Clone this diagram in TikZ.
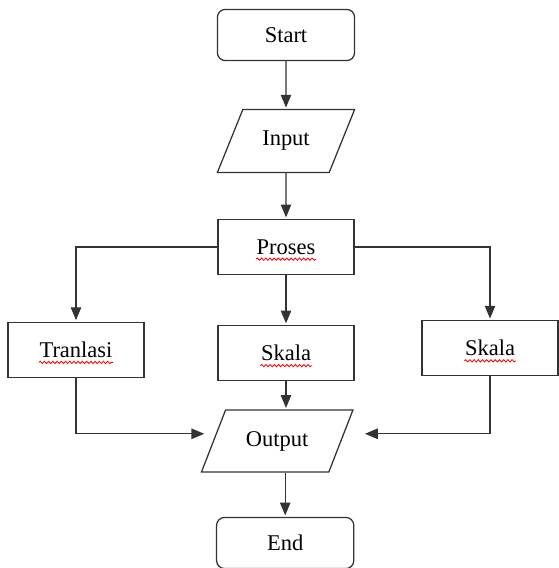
\documentclass[tikz,border=0pt]{standalone}
\usepackage{fontspec}
\setmainfont{Liberation Serif}
\usetikzlibrary{shapes.geometric,arrows.meta,positioning,decorations.pathmorphing}

% red wavy line under the word of a node
\newcommand\typoline[2]{%
	\node[inner sep=0pt, anchor=base] (#1_word) at (#1.base) {\phantom{#2}};
	\draw[typo] ([yshift=-3.5pt]#1_word.base west) -- ([yshift=-3.5pt]#1_word.base east);}

\tikzset{
	terminal/.style={draw, rounded corners=0.2cm, minimum width=3.43cm, minimum height=1.28cm},
	process/.style={draw, minimum width=3.4cm, minimum height=1.38cm},
	io/.style={draw, trapezium, trapezium left angle=60, trapezium right angle=120, trapezium stretches=true, minimum width=3.45cm, minimum height=1.57cm},
	flow/.style={-{Triangle[length=0.32cm,width=0.26cm]}},
	typo/.style={draw=red, line width=0.6pt, shorten >=0pt, decorate, decoration={snake, amplitude=0.8pt, segment length=3pt}}
}

\begin{document}
\begin{tikzpicture}[shorten >=1pt,node distance=2.65cm,on grid,line width=0.9pt,draw=black!80,font=\fontsize{16}{19}\selectfont]
		\useasboundingbox (0,0) rectangle (13.975,-14.2);
		
		\node[terminal]	(start)	at (7.15,-0.875)								{Start};
		\node[io]		(input)		[below=of start]							{Input};
		\node[process]	(proses)	[below=of input]							{Proses};
		\node[process]	(skala_2)	[below=of proses]							{Skala};
		\node[process]	(tranlasi)	[left=5.25cm of skala_2, yshift=0.08cm]		{Tranlasi};
		\node[process]	(skala_3)	[right=5.1cm of skala_2, yshift=0.12cm]		{Skala};
		\node[io,minimum width=3.8cm,minimum height=1.55cm]	(output)	[below=2.2cm of skala_2, xshift=-0.22cm]	{Output};
		\node[terminal]	(end)		[below=2.55cm of output, xshift=0.2cm]		{End};
		
		\coordinate (in_left)	at ([xshift=-0.18cm,yshift=0.18cm]output.west);
		\coordinate (in_right)	at ([xshift=0.55cm,yshift=0.18cm]output.east);
		
		\draw[flow]	(start)		--	(input);
		\draw[flow]	(input)		--	(proses);
		\draw[flow]	(proses)	--	(skala_2);
		\draw[flow]	(proses.west)	-|	(tranlasi.north);
		\draw[flow]	(proses.east)	-|	(skala_3.north);
		\draw[flow]	(skala_2)	--	(skala_2 |- output.north);
		\draw[flow]	(tranlasi)	|-	(in_left);
		\draw[flow]	(skala_3)	|-	(in_right);
		\draw[flow]	(end |- output.south)	--	(end);
		
		\typoline{proses}{Proses}
		\typoline{skala_2}{Skala}
		\typoline{tranlasi}{Tranlasi}
		\typoline{skala_3}{Skala}
	\end{tikzpicture}
\end{document}
